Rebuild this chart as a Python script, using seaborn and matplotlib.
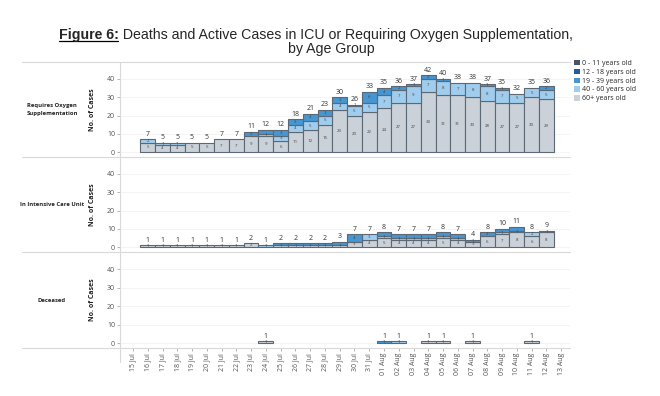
import numpy as np
import pandas as pd
import matplotlib
matplotlib.use("Agg")
import matplotlib.pyplot as plt
from matplotlib.lines import Line2D
from matplotlib.patches import Patch
import seaborn as sns

# ---------------- data ----------------
dates = ["15 Jul", "16 Jul", "17 Jul", "18 Jul", "19 Jul", "20 Jul", "21 Jul", "22 Jul",
         "23 Jul", "24 Jul", "25 Jul", "26 Jul", "27 Jul", "28 Jul", "29 Jul", "30 Jul",
         "31 Jul", "01 Aug", "02 Aug", "03 Aug", "04 Aug", "05 Aug", "06 Aug", "07 Aug",
         "08 Aug", "09 Aug", "10 Aug", "11 Aug", "12 Aug", "13 Aug"]
groups = ["0 - 11 years old", "12 - 18 years old", "19 - 39 years old",
          "40 - 60 years old", "60+ years old"]
panels = ["Requires Oxygen\nSupplementation", "In Intensive Care Unit", "Deceased"]

# Requires oxygen supplementation (15 Jul .. 13 Aug)
oxy_60p   = [0, 5, 4, 4, 5, 5, 7, 7, 9, 9, 6, 11, 12, 15, 23, 20, 22, 24, 27, 27, 33, 31, 31, 30, 28, 27, 27, 30, 29, 0]
oxy_40_60 = [0, 2, 1, 1, 0, 0, 0, 0, 0, 1, 3, 4, 5, 5, 4, 5, 5, 7, 7, 9, 7, 8, 7, 8, 8, 7, 5, 5, 5, 0]
oxy_19_39 = [0, 0, 0, 0, 0, 0, 0, 0, 2, 2, 3, 3, 4, 3, 3, 1, 6, 4, 2, 1, 2, 1, 0, 0, 1, 1, 0, 0, 2, 0]

# In intensive care unit
icu_60p   = [0, 1, 1, 1, 1, 1, 1, 1, 2, 0, 1, 1, 1, 1, 1, 3, 4, 5, 4, 4, 4, 5, 4, 3, 6, 7, 8, 6, 8, 0]
icu_40_60 = [0, 0, 0, 0, 0, 0, 0, 0, 0, 1, 0, 0, 0, 0, 0, 0, 3, 1, 1, 1, 1, 1, 1, 0, 0, 1, 1, 2, 1, 0]
icu_19_39 = [0, 0, 0, 0, 0, 0, 0, 0, 0, 0, 1, 1, 1, 1, 2, 4, 0, 2, 2, 2, 2, 2, 2, 1, 2, 2, 2, 0, 0, 0]

# Deceased
dec_60p   = [0, 0, 0, 0, 0, 0, 0, 0, 0, 1, 0, 0, 0, 0, 0, 0, 0, 0, 0, 0, 1, 1, 0, 1, 0, 0, 0, 1, 0, 0]
dec_40_60 = [0, 0, 0, 0, 0, 0, 0, 0, 0, 0, 0, 0, 0, 0, 0, 0, 0, 0, 1, 0, 0, 0, 0, 0, 0, 0, 0, 0, 0, 0]
dec_19_39 = [0, 0, 0, 0, 0, 0, 0, 0, 0, 0, 0, 0, 0, 0, 0, 0, 0, 1, 0, 0, 0, 0, 0, 0, 0, 0, 0, 0, 0, 0]

y_ticks = [0, 10, 20, 30, 40]

panel_data = [
    {"19 - 39 years old": oxy_19_39, "40 - 60 years old": oxy_40_60, "60+ years old": oxy_60p},
    {"19 - 39 years old": icu_19_39, "40 - 60 years old": icu_40_60, "60+ years old": icu_60p},
    {"19 - 39 years old": dec_19_39, "40 - 60 years old": dec_40_60, "60+ years old": dec_60p},
]

palette = {
    "0 - 11 years old": "#4b5562",
    "12 - 18 years old": "#1f5f9e",
    "19 - 39 years old": "#4596d2",
    "40 - 60 years old": "#a0cdee",
    "60+ years old": "#cbd1d9",
}

# ---------------- style ----------------
sns.set_theme(style="white")
plt.rcParams["font.family"] = ["Open Sans", "DejaVu Sans"]

W, H = 660, 396
fig = plt.figure(figsize=(W / 100, H / 100), dpi=100)

def fx(px):
    return px / W

def fy(py):
    return 1 - py / H

panel_px = [(62, 157), (157, 252), (252, 348)]
ax_left, ax_right = 120, 570
line_col = "#d9d9d9"
text_col = "#555555"
ylim = (-2.7, 49.3)

for pi, (top, bot) in enumerate(panel_px):
    ax = fig.add_axes([fx(ax_left), fy(bot), fx(ax_right - ax_left), (bot - top) / H])
    px_per_unit = (bot - top) / (ylim[1] - ylim[0])
    rows = []
    for g, vals in panel_data[pi].items():
        for i, v in enumerate(vals):
            if v > 0:
                rows.append({"pos": i, "group": g, "count": v})
    df = pd.DataFrame(rows)
    present = [g for g in groups if g in set(df["group"])]
    sns.histplot(data=df, x="pos", weights="count", hue="group", hue_order=present,
                 multiple="stack", discrete=True, shrink=1.0, binrange=(0, len(dates) - 1),
                 palette=palette, edgecolor="#5c6873", linewidth=0.8, alpha=1,
                 legend=False, ax=ax, zorder=3)
    # segment labels, bottom-up, skipping ones that would collide
    segs = {}
    for p in ax.patches:
        h = p.get_height()
        if h <= 0:
            p.set_visible(False)
            continue
        xc = round(p.get_x() + p.get_width() / 2)
        segs.setdefault(xc, []).append((p.get_y(), h))
    for xc, lst in segs.items():
        lst.sort()
        last_y = -1e9
        for y0, h in lst:
            yc = y0 + h / 2
            if (yc - last_y) * px_per_unit < 3.6:
                continue
            ax.text(xc, yc, str(int(round(h))), ha="center", va="center",
                    fontsize=3.2, color="#444444", zorder=5)
            last_y = yc
    totals = np.zeros(len(dates))
    for vals in panel_data[pi].values():
        totals += np.array(vals)
    for i, t in enumerate(totals):
        if t > 0:
            ax.annotate(str(int(t)), (i, t), xytext=(0, 1.2), textcoords="offset points",
                        ha="center", va="bottom", fontsize=5, color="#333333", zorder=6)

    ax.set_xlim(-0.88, len(dates) - 0.4)
    ax.set_ylim(*ylim)
    ax.set_yticks(y_ticks)
    ax.set_yticklabels([str(v) for v in y_ticks])
    ax.tick_params(axis="y", length=2, width=0.5, color="#999999", labelsize=5,
                   labelcolor=text_col, pad=1.5, left=True)
    ax.set_ylabel("No. of Cases", fontsize=5, fontweight="bold", color="#222222")
    ax.yaxis.set_label_coords(-24 / (ax_right - ax_left), 0.5)
    ax.grid(axis="y", color="#f0f0f0", linewidth=0.5, zorder=0)
    ax.set_xlabel("")
    for s in ax.spines.values():
        s.set_visible(False)
    ax.set_xticks(range(len(dates)))
    if pi < 2:
        ax.tick_params(axis="x", bottom=False, labelbottom=False)
    else:
        ax.set_xticklabels(dates, rotation=90, fontsize=5, color=text_col)
        ax.tick_params(axis="x", bottom=True, length=2, width=0.5, color="#999999", pad=1.5)
    fig.text(fx(52), fy((top + bot) / 2), panels[pi], ha="center", va="center",
             fontsize=4.2, fontweight="bold", color="#222222", linespacing=1.5)

# separator lines
for ypx in [62, 157, 252, 348]:
    fig.add_artist(Line2D([fx(22), fx(ax_right)], [fy(ypx), fy(ypx)], color=line_col, lw=0.8))
fig.add_artist(Line2D([fx(ax_left), fx(ax_left)], [fy(62), fy(362)], color=line_col, lw=0.8))

# legend
handles = [Patch(facecolor=palette[g], edgecolor="none") for g in groups]
fig.legend(handles, groups, loc="upper left", bbox_to_anchor=(fx(574), fy(60)),
           frameon=False, fontsize=5, handlelength=0.8, handleheight=0.8,
           handletextpad=0.4, labelspacing=0.25, borderaxespad=0, borderpad=0)

# title
renderer = fig.canvas.get_renderer()
tfont = ["Liberation Sans", "DejaVu Sans"]
fs = 10
base1, base2 = 39, 53
t1 = fig.text(0, fy(base1), "Figure 6:", fontsize=fs, fontweight="bold", family=tfont, va="baseline")
t2 = fig.text(0, fy(base1), " Deaths and Active Cases in ICU or Requiring Oxygen Supplementation,",
              fontsize=fs, family=tfont, va="baseline")
w1 = t1.get_window_extent(renderer).width
w2 = t2.get_window_extent(renderer).width
fs = fs * 512 / (w1 + w2)
t1.set_fontsize(fs)
t2.set_fontsize(fs)
w1 = t1.get_window_extent(renderer).width
w2 = t2.get_window_extent(renderer).width
x0 = 316 - (w1 + w2) / 2
t1.set_x(fx(x0))
t2.set_x(fx(x0 + w1))
fig.add_artist(Line2D([fx(x0), fx(x0 + w1 - 1)], [fy(base1 + 2), fy(base1 + 2)], color="black", lw=0.9))
fig.text(fx(331), fy(base2), "by Age Group", fontsize=fs, family=tfont, ha="center", va="baseline")

fig.savefig("out.png", dpi=100)
